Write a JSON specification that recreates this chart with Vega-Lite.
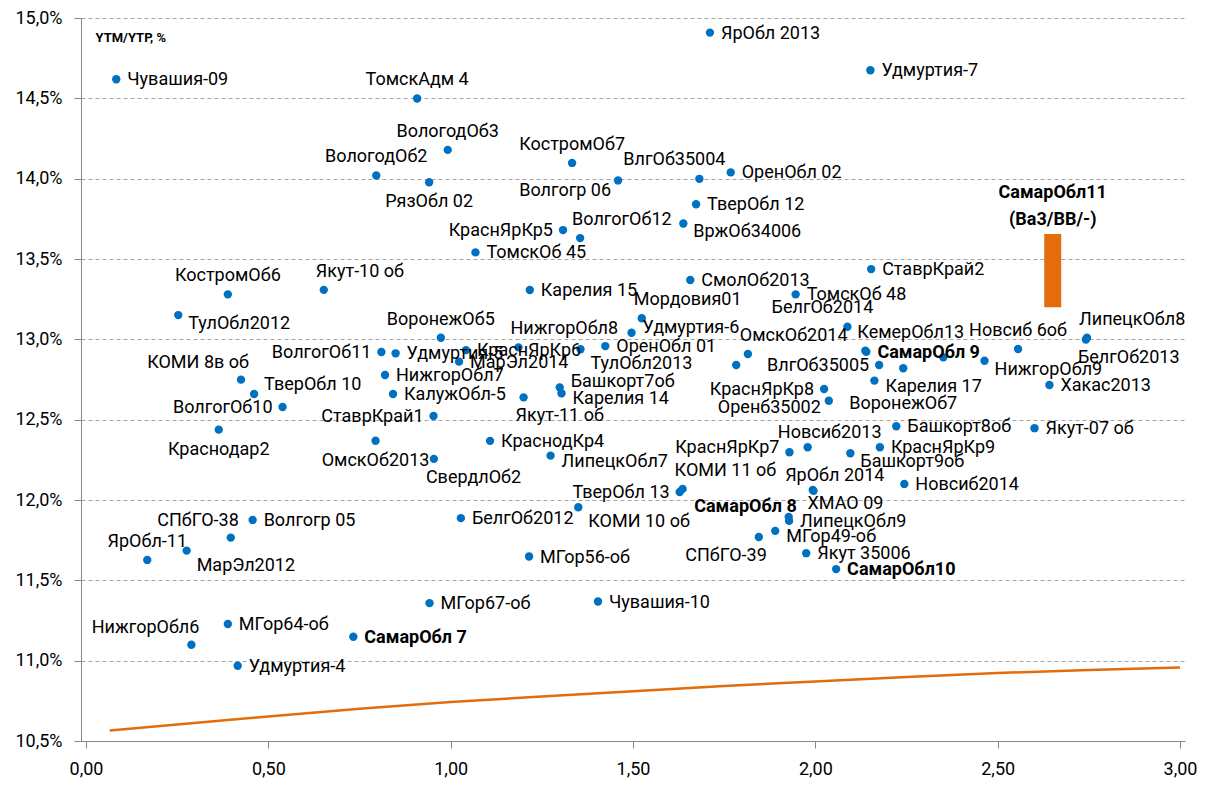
{
  "$schema": "https://vega.github.io/schema/vega-lite/v6.json",
  "width": 1104,
  "height": 723,
  "autosize": {"type": "none"},
  "padding": {"left": 81, "top": 18, "right": 30, "bottom": 44},
  "background": "white",
  "config": {
    "view": {"stroke": null},
    "font": "Roboto",
    "text": {"font": "Roboto"}
  },
  "datasets": {
    "bonds": [
      {"label": "Чувашия-09", "duration": 0.083, "ytm": 14.619, "pos": "r"},
      {"label": "ТомскАдм 4", "duration": 0.908, "ytm": 14.499, "pos": "a"},
      {"label": "ЯрОбл 2013", "duration": 1.711, "ytm": 14.909, "pos": "r"},
      {"label": "Удмуртия-7", "duration": 2.151, "ytm": 14.675, "pos": "r"},
      {"label": "ВологодОб3", "duration": 0.992, "ytm": 14.179, "pos": "a"},
      {"label": "ВологодОб2", "duration": 0.796, "ytm": 14.020, "pos": "a"},
      {"label": "РязОбл 02", "duration": 0.941, "ytm": 13.978, "pos": "b"},
      {"label": "КостромОб7", "duration": 1.333, "ytm": 14.098, "pos": "a"},
      {"label": "Волгогр 06", "duration": 1.459, "ytm": 13.989, "pos": "lb"},
      {"label": "ВлгОб35004", "duration": 1.682, "ytm": 13.999, "pos": "aL"},
      {"label": "ОренОбл 02", "duration": 1.768, "ytm": 14.039, "pos": "r"},
      {"label": "ТверОбл 12", "duration": 1.673, "ytm": 13.841, "pos": "r"},
      {"label": "ВолгогОб12", "duration": 1.355, "ytm": 13.630, "pos": "ar"},
      {"label": "ВржОб34006", "duration": 1.638, "ytm": 13.721, "pos": "rb"},
      {"label": "КраснЯрКр5", "duration": 1.308, "ytm": 13.680, "pos": "l"},
      {"label": "ТомскОб 45", "duration": 1.068, "ytm": 13.541, "pos": "r"},
      {"label": "КостромОб6", "duration": 0.389, "ytm": 13.280, "pos": "a"},
      {"label": "ТулОбл2012", "duration": 0.253, "ytm": 13.151, "pos": "rb"},
      {"label": "Якут-10 об", "duration": 0.652, "ytm": 13.308, "pos": "ar"},
      {"label": "ВолгогОб11", "duration": 0.810, "ytm": 12.921, "pos": "l"},
      {"label": "Удмуртия-5", "duration": 0.849, "ytm": 12.913, "pos": "r"},
      {"label": "НижгорОбл7", "duration": 0.820, "ytm": 12.778, "pos": "r"},
      {"label": "КалужОбл-5", "duration": 0.842, "ytm": 12.660, "pos": "r"},
      {"label": "КОМИ 8в об", "duration": 0.425, "ytm": 12.749, "pos": "al"},
      {"label": "ТверОбл 10", "duration": 0.461, "ytm": 12.660, "pos": "ra"},
      {"label": "ВолгогОб10", "duration": 0.539, "ytm": 12.579, "pos": "l"},
      {"label": "Краснодар2", "duration": 0.364, "ytm": 12.438, "pos": "b"},
      {"label": "ОмскОб2013", "duration": 0.794, "ytm": 12.369, "pos": "b"},
      {"label": "СтаврКрай1", "duration": 0.953, "ytm": 12.523, "pos": "l"},
      {"label": "ВоронежОб5", "duration": 0.973, "ytm": 13.010, "pos": "a"},
      {"label": "КраснЯрКр6", "duration": 1.042, "ytm": 12.933, "pos": "r"},
      {"label": "МарЭл2014", "duration": 1.023, "ytm": 12.861, "pos": "r"},
      {"label": "Карелия 15", "duration": 1.217, "ytm": 13.307, "pos": "r"},
      {"label": "НижгорОбл8", "duration": 1.186, "ytm": 12.950, "pos": "ar"},
      {"label": "ТулОбл2013", "duration": 1.356, "ytm": 12.938, "pos": "rb2"},
      {"label": "ОренОбл 01", "duration": 1.424, "ytm": 12.958, "pos": "r"},
      {"label": "Удмуртия-6", "duration": 1.496, "ytm": 13.041, "pos": "ru"},
      {"label": "Мордовия01", "duration": 1.524, "ytm": 13.131, "pos": "ar"},
      {"label": "Башкорт7об", "duration": 1.299, "ytm": 12.701, "pos": "ru"},
      {"label": "Карелия 14", "duration": 1.304, "ytm": 12.664, "pos": "rd"},
      {"label": "Якут-11 об", "duration": 1.200, "ytm": 12.639, "pos": "br"},
      {"label": "КраснодКр4", "duration": 1.108, "ytm": 12.368, "pos": "r"},
      {"label": "СвердлОб2", "duration": 0.954, "ytm": 12.256, "pos": "br"},
      {"label": "ЛипецкОбл7", "duration": 1.274, "ytm": 12.276, "pos": "rd"},
      {"label": "СмолОб2013", "duration": 1.657, "ytm": 13.369, "pos": "r"},
      {"label": "ТомскОб 48", "duration": 1.946, "ytm": 13.280, "pos": "r"},
      {"label": "СтаврКрай2", "duration": 2.153, "ytm": 13.437, "pos": "r"},
      {"label": "БелгОб2014", "duration": 2.088, "ytm": 13.078, "pos": "aL"},
      {"label": "КемерОбл13", "duration": 2.137, "ytm": 12.929, "pos": "ar"},
      {"label": "СамарОбл 9", "duration": 2.140, "ytm": 12.922, "pos": "r"},
      {"label": "", "duration": 2.351, "ytm": 12.888, "pos": "r"},
      {"label": "ВлгОб35005", "duration": 2.175, "ytm": 12.840, "pos": "l"},
      {"label": "Карелия 17", "duration": 2.162, "ytm": 12.743, "pos": "rd"},
      {"label": "КраснЯрКр8", "duration": 2.024, "ytm": 12.691, "pos": "l"},
      {"label": "Оренб35002", "duration": 2.037, "ytm": 12.618, "pos": "lb2"},
      {"label": "ВоронежОб7", "duration": 2.241, "ytm": 12.820, "pos": "bb"},
      {"label": "", "duration": 1.783, "ytm": 12.840, "pos": "r"},
      {"label": "ОмскОб2014", "duration": 1.815, "ytm": 12.909, "pos": "ar"},
      {"label": "ЛипецкОбл8", "duration": 2.745, "ytm": 13.010, "pos": "ar"},
      {"label": "БелгОб2013", "duration": 2.742, "ytm": 12.999, "pos": "br"},
      {"label": "Новсиб 6об", "duration": 2.556, "ytm": 12.940, "pos": "a"},
      {"label": "НижгорОбл9", "duration": 2.464, "ytm": 12.867, "pos": "rb"},
      {"label": "Хакас2013", "duration": 2.642, "ytm": 12.716, "pos": "r"},
      {"label": "Башкорт8об", "duration": 2.222, "ytm": 12.459, "pos": "r"},
      {"label": "Якут-07 об", "duration": 2.601, "ytm": 12.447, "pos": "r"},
      {"label": "КраснЯрКр7", "duration": 1.929, "ytm": 12.297, "pos": "lu"},
      {"label": "Новсиб2013", "duration": 1.979, "ytm": 12.328, "pos": "aR"},
      {"label": "Башкорт9об", "duration": 2.096, "ytm": 12.291, "pos": "rb"},
      {"label": "КраснЯрКр9", "duration": 2.177, "ytm": 12.328, "pos": "r"},
      {"label": "ЯрОбл 2014", "duration": 1.993, "ytm": 12.063, "pos": "aR"},
      {"label": "ХМАО 09", "duration": 1.995, "ytm": 12.057, "pos": "bn"},
      {"label": "Новсиб2014", "duration": 2.244, "ytm": 12.100, "pos": "r"},
      {"label": "КОМИ 11 об", "duration": 1.636, "ytm": 12.069, "pos": "ar"},
      {"label": "ТверОбл 13", "duration": 1.628, "ytm": 12.050, "pos": "l"},
      {"label": "СамарОбл 8", "duration": 1.927, "ytm": 11.895, "pos": "al2"},
      {"label": "ЛипецкОбл9", "duration": 1.928, "ytm": 11.870, "pos": "r"},
      {"label": "МГор49-об", "duration": 1.890, "ytm": 11.808, "pos": "rd"},
      {"label": "СПбГО-39", "duration": 1.845, "ytm": 11.770, "pos": "bl"},
      {"label": "Якут 35006", "duration": 1.975, "ytm": 11.669, "pos": "r"},
      {"label": "СамарОбл10", "duration": 2.057, "ytm": 11.570, "pos": "r"},
      {"label": "БелгОб2012", "duration": 1.028, "ytm": 11.887, "pos": "r"},
      {"label": "КОМИ 10 об", "duration": 1.350, "ytm": 11.955, "pos": "rb2"},
      {"label": "МГор56-об", "duration": 1.215, "ytm": 11.648, "pos": "r"},
      {"label": "МГор67-об", "duration": 0.942, "ytm": 11.358, "pos": "r"},
      {"label": "Чувашия-10", "duration": 1.404, "ytm": 11.368, "pos": "r"},
      {"label": "СамарОбл 7", "duration": 0.733, "ytm": 11.149, "pos": "r"},
      {"label": "Волгогр 05", "duration": 0.457, "ytm": 11.876, "pos": "r"},
      {"label": "СПбГО-38", "duration": 0.397, "ytm": 11.766, "pos": "al"},
      {"label": "МарЭл2012", "duration": 0.276, "ytm": 11.685, "pos": "rb2"},
      {"label": "ЯрОбл-11", "duration": 0.168, "ytm": 11.627, "pos": "a"},
      {"label": "МГор64-об", "duration": 0.389, "ytm": 11.228, "pos": "r"},
      {"label": "НижгорОбл6", "duration": 0.289, "ytm": 11.099, "pos": "al"},
      {"label": "Удмуртия-4", "duration": 0.416, "ytm": 10.968, "pos": "r"}
    ],
    "curve": [
      {"duration": 0.065, "ytm": 10.566},
      {"duration": 0.25, "ytm": 10.603},
      {"duration": 0.5, "ytm": 10.653},
      {"duration": 0.75, "ytm": 10.700},
      {"duration": 1.0, "ytm": 10.742},
      {"duration": 1.25, "ytm": 10.777},
      {"duration": 1.5, "ytm": 10.809},
      {"duration": 1.75, "ytm": 10.842},
      {"duration": 2.0, "ytm": 10.871},
      {"duration": 2.25, "ytm": 10.898},
      {"duration": 2.5, "ytm": 10.923},
      {"duration": 2.75, "ytm": 10.942},
      {"duration": 3.0, "ytm": 10.958}
    ],
    "samara11": [
      {"label": "СамарОбл11\n(Ba3/BB/-)", "duration": 2.651, "low": 13.2, "high": 13.655}
    ]
  },
  "layer": [
    {
      "data": {"name": "curve"},
      "mark": {"type": "line", "color": "#E46C0A", "strokeWidth": 2.5},
      "encoding": {
        "x": {"field": "duration", "type": "quantitative", "scale": {"domain": [0, 3], "nice": false, "zero": false},
          "axis": {"values": [0, 0.5, 1, 1.5, 2, 2.5, 3], "labelExpr": "replace(format(datum.value,'.2f'),'.',',')", "title": null, "grid": false, "domainColor": "#868686", "tickColor": "#868686", "tickSize": 7, "labelFontSize": 18, "labelFont": "Roboto", "labelColor": "#000000", "labelPadding": 12}},
        "y": {"field": "ytm", "type": "quantitative", "scale": {"domain": [10.5, 15], "nice": false, "zero": false},
          "axis": {"values": [10.5, 11, 11.5, 12, 12.5, 13, 13.5, 14, 14.5, 15], "labelExpr": "replace(format(datum.value,'.1f'),'.',',') + '%'", "title": "YTM/YTP, %", "titleAngle": 0, "titleX": 14, "titleY": 19, "titleAlign": "left", "titleBaseline": "middle", "titleFontSize": 13, "titleFontWeight": "bold", "titleFont": "Roboto", "titleColor": "#000000", "grid": true, "gridDash": [4, 3], "gridColor": "#a6a6a6", "domainColor": "#868686", "tickColor": "#868686", "tickSize": 7, "labelPadding": 12, "labelFontSize": 18, "labelFont": "Roboto", "labelColor": "#000000"}}
      }
    },
    {
      "data": {"name": "bonds"},
      "mark": {"type": "circle", "color": "#0070C0", "opacity": 1, "size": 70},
      "encoding": {
        "x": {"field": "duration", "type": "quantitative"},
        "y": {"field": "ytm", "type": "quantitative"}
      }
    },
    {
      "data": {"name": "bonds"},
      "mark": {
        "type": "text",
        "fontSize": 18,
        "color": "#000000",
        "baseline": "middle",
        "fontWeight": {"expr": "indexof(datum.label, 'СамарОбл') == 0 ? 'bold' : 'normal'"},
        "align": {"expr": "({'r':'left','ra':'left','rb':'left','rb2':'left','ru':'left','rd':'left','ar':'left','br':'left','bn':'left','l':'right','la':'right','lb':'right','lb2':'right','lu':'right','al':'right','al2':'right','bl':'right','a':'center','aL':'center','aR':'center','b':'center','bb':'center'})[datum.pos]"},
        "dx": {"expr": "({'r':11,'ra':10,'rb':10,'rb2':10,'ru':11,'rd':11,'ar':-8,'br':-8,'bn':-6,'l':-10,'la':-7,'lb':-7,'lb2':-8,'lu':-10,'al':8,'al2':8,'bl':8,'a':0,'aL':-25,'aR':22,'b':0,'bb':0})[datum.pos]"},
        "dy": {"expr": "({'r':1,'ra':-9,'rb':9,'rb2':15,'ru':-5,'rd':6,'ar':-18,'br':19,'bn':13,'l':1,'la':-12,'lb':11,'lb2':7,'lu':-4,'al':-17,'al2':-10,'bl':19,'a':-18,'aL':-19,'aR':-14,'b':20,'bb':36})[datum.pos]"}
      },
      "encoding": {
        "x": {"field": "duration", "type": "quantitative"},
        "y": {"field": "ytm", "type": "quantitative"},
        "text": {"field": "label"}
      }
    },
    {
      "data": {"name": "samara11"},
      "mark": {"type": "bar", "color": "#E46C0A", "width": 17},
      "encoding": {
        "x": {"field": "duration", "type": "quantitative"},
        "y": {"field": "low", "type": "quantitative"},
        "y2": {"field": "high"}
      }
    },
    {
      "data": {"name": "samara11"},
      "mark": {"type": "text", "fontSize": 18, "fontWeight": "bold", "align": "center", "baseline": "middle", "lineBreak": "\n", "lineHeight": 27, "dy": -41, "color": "#000000"},
      "encoding": {
        "x": {"field": "duration", "type": "quantitative"},
        "y": {"field": "high", "type": "quantitative"},
        "text": {"field": "label"}
      }
    }
  ]
}
